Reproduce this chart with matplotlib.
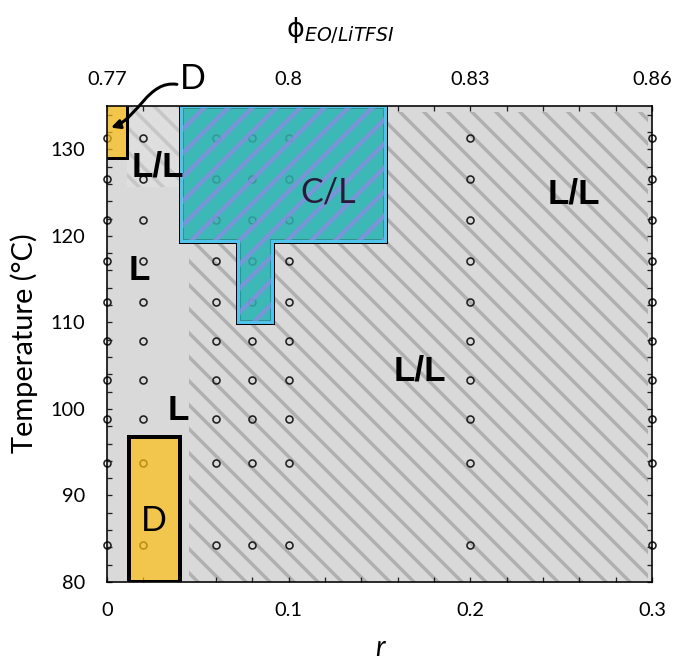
import matplotlib.pyplot as plt
import numpy as np
from matplotlib.patches import Polygon, FancyArrowPatch
from matplotlib.path import Path
from matplotlib.ticker import MultipleLocator

plt.rcParams['font.family'] = ['Lato', 'DejaVu Sans']
plt.rcParams['hatch.linewidth'] = 3.5

# measured compositions (r) and temperatures (degC)
r_meas = [0, 0.02, 0.06, 0.08, 0.1, 0.2, 0.3]
T_meas = [84.3, 93.7, 98.8, 103.3, 107.8, 112.3, 117.1, 121.8, 126.6, 131.3]

# top axis labels (phi_EO/LiTFSI) at r = 0, 0.1, 0.2, 0.3
r_ticks = [0, 0.1, 0.2, 0.3]
r_labels = ['0', '0.1', '0.2', '0.3']
phi_labels = ['0.77', '0.8', '0.83', '0.86']

# phase regions, vertices as (r, T)
ll_big = [(0.045, 80), (0.298, 80), (0.298, 134.3), (0.045, 134.3)]
ll_small = [(0.011, 125.6), (0.042, 125.6), (0.042, 135), (0.011, 135)]
d_top = [(0, 129.0), (0.011, 129.0), (0.011, 135), (0, 135)]
d_low = [(0.012, 80), (0.040, 80), (0.040, 96.7), (0.012, 96.7)]
cl = [(0.041, 135), (0.041, 119.4), (0.072, 119.4), (0.072, 110.0),
      (0.091, 110.0), (0.091, 119.4), (0.153, 119.4), (0.153, 135)]

# region labels: text, r, T
bold_labels = [('L/L', 0.028, 128.0), ('L', 0.018, 116.0), ('L', 0.039, 99.8),
               ('L/L', 0.172, 104.4), ('L/L', 0.257, 124.8)]
thin_labels = [('D', 0.026, 87.0, 'black'), ('C/L', 0.122, 125.0, '#2a1a3a')]

# curved pointer from the upper "D" label to the small D region
pointer = [(0.0385, 137.5), (0.0226, 138.0), (0.0171, 133.6), (0.0022, 132.5)]

gray = '#d9d9d9'
teal = '#3cb8b6'

fig = plt.figure(figsize=(679 / 72, 660 / 72), dpi=72)
ax = fig.add_axes([107 / 679, 1 - 582 / 660, 545 / 679, 476 / 660])
ax.set_facecolor(gray)

# L/L regions (gray stripes)
ax.add_patch(Polygon(ll_big, closed=True, facecolor=gray, edgecolor='#b0b0b0',
                     hatch='\\', lw=0, zorder=1))
ax.add_patch(Polygon(ll_small, closed=True, facecolor='#dedede', edgecolor='#c6c6c6',
                     hatch='\\', lw=0, zorder=1))
# opaque base for C/L so the gray stripes do not show through
ax.add_patch(Polygon(cl, closed=True, facecolor=teal, edgecolor='black', lw=5, zorder=2))

# measurement points
rr, TT = np.meshgrid(r_meas, T_meas)
ax.plot(rr.ravel(), TT.ravel(), 'o', ms=7, mfc='none', mec='#1e1e1e', mew=1.6,
        clip_on=False, zorder=3)

# C/L region (translucent over the points)
with plt.rc_context({'hatch.linewidth': 4.5}):
    ax.add_patch(Polygon(cl, closed=True, facecolor=teal, edgecolor='#878de0',
                         hatch='/', lw=0, alpha=0.8, zorder=4))
ax.add_patch(Polygon(cl, closed=True, fill=False, edgecolor='#4fc3ec', lw=3, zorder=5))

# D regions
ax.add_patch(Polygon(d_top, closed=True, facecolor='#fdbd10', edgecolor='none',
                     alpha=0.7, zorder=4))
ax.add_patch(Polygon(d_top[:3], closed=False, fill=False, edgecolor='black', lw=3, zorder=5))
ax.add_patch(Polygon(d_low, closed=True, facecolor='#fdbd10', edgecolor='none',
                     alpha=0.7, zorder=4))
ax.add_patch(Polygon(d_low, closed=True, fill=False, edgecolor='black', lw=4, zorder=5))

for txt, x, y in bold_labels:
    ax.text(x, y, txt, fontsize=35, fontweight='bold', family='Liberation Sans',
            ha='center', va='center', zorder=6)
for txt, x, y, c in thin_labels:
    ax.text(x, y, txt, fontsize=34, color=c, ha='center', va='center', zorder=6)

# D annotation above the plot
ax.text(0.0475, 138.1, 'D', fontsize=34, ha='center', va='center', clip_on=False)
ax.add_patch(FancyArrowPatch(path=Path(pointer, [Path.MOVETO, Path.CURVE4, Path.CURVE4, Path.CURVE4]),
                             arrowstyle='-|>', mutation_scale=18, lw=3, color='black',
                             clip_on=False, zorder=7))

ax.set_xlim(0, 0.3)
ax.set_ylim(80, 135)
ax.xaxis.set_minor_locator(MultipleLocator(0.02))
ax.yaxis.set_major_locator(MultipleLocator(10))
ax.yaxis.set_minor_locator(MultipleLocator(2))
ax.set_xticks(r_ticks, r_labels)
ax.tick_params(which='both', direction='in', top=True, right=True, width=1.3,
               length=5, labelsize=20, color='#222222')
ax.tick_params(axis='x', pad=20)
ax.tick_params(axis='y', pad=22)
for s in ax.spines.values():
    s.set_linewidth(1.6)
    s.set_zorder(6)

top = ax.secondary_xaxis('top')
top.set_xticks(r_ticks, phi_labels)
top.tick_params(direction='in', length=0, labelsize=20, pad=18)
top.spines['top'].set_visible(False)

ax.set_ylabel('Temperature (°C)', fontsize=29)
ax.yaxis.set_label_coords(-0.127, 0.502)
ax.set_xlabel('r', fontsize=28, style='italic', labelpad=16)
fig.text(340 / 679, 1 - 30 / 660, r'$\mathrm{\phi}_{\mathit{EO/LiTFSI}}$',
         fontsize=27, ha='center', va='center')

fig.savefig('out.png', dpi=72)
